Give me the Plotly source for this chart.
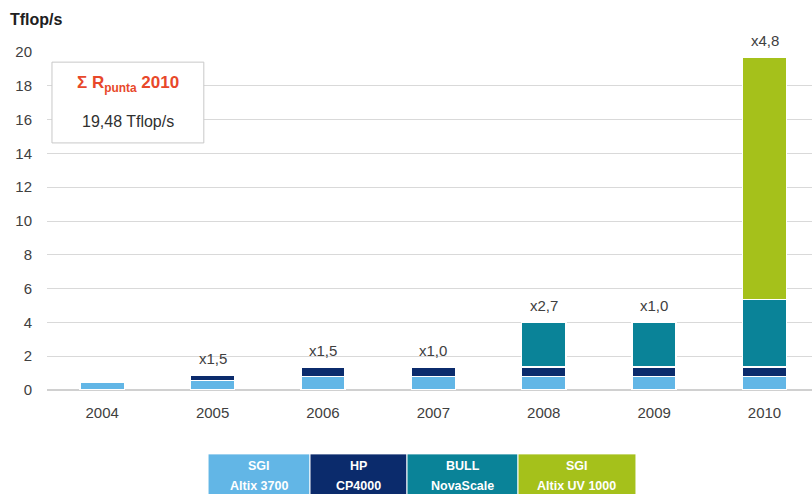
import plotly.graph_objects as go

years = ["2004", "2005", "2006", "2007", "2008", "2009", "2010"]

sgi_altix_3700 = [0.43, 0.55, 0.79, 0.79, 0.79, 0.79, 0.79]
hp_cp4000 = [0, 0.30, 0.57, 0.57, 0.57, 0.57, 0.57]
bull_novascale = [0, 0, 0, 0, 2.65, 2.65, 4.01]
sgi_altix_uv = [0, 0, 0, 0, 0, 0, 14.3]

growth_labels = ["", "x1,5", "x1,5", "x1,0", "x2,7", "x1,0", "x4,8"]

legend_vendor = ["SGI", "HP", "BULL", "SGI"]
legend_model = ["Altix 3700", "CP4000", "NovaScale", "Altix UV 1000"]
colors = ["#62b6e6", "#0b2b6c", "#0a8398", "#a5c11b"]

FONT = "Liberation Sans, Arial, sans-serif"

fig = go.Figure()
for vals, vendor, model, color in zip(
    [sgi_altix_3700, hp_cp4000, bull_novascale, sgi_altix_uv],
    legend_vendor, legend_model, colors,
):
    fig.add_trace(
        go.Bar(
            x=years,
            y=vals,
            name=f"{vendor} {model}",
            marker=dict(color=color, line=dict(color="white", width=1.5)),
            width=0.40,
            showlegend=False,
        )
    )

# growth factor labels above each stack
totals = [sum(v) for v in zip(sgi_altix_3700, hp_cp4000, bull_novascale, sgi_altix_uv)]
for i, (tot, lab) in enumerate(zip(totals, growth_labels)):
    if lab:
        fig.add_annotation(
            x=i, y=tot, text=lab, showarrow=False, yanchor="middle", yshift=17,
            font=dict(size=15, color="#404040", family=FONT),
        )

# legend drawn as a strip of coloured cells under the chart
cell_edges = [0.2105, 0.3438, 0.4706, 0.6157, 0.7699]
for i, color in enumerate(colors):
    x0, x1 = cell_edges[i], cell_edges[i + 1]
    fig.add_shape(
        type="rect", xref="paper", yref="paper", x0=x0, x1=x1, y0=-0.31, y1=-0.189,
        fillcolor=color, line=dict(color="white", width=1), layer="above",
    )
    fig.add_annotation(
        xref="paper", yref="paper", x=(x0 + x1) / 2, y=-0.226, xanchor="center",
        yanchor="middle", text="<b>" + legend_vendor[i] + "</b>",
        showarrow=False, font=dict(size=12.5, color="white", family=FONT),
    )
    fig.add_annotation(
        xref="paper", yref="paper", x=(x0 + x1) / 2, y=-0.285, xanchor="center",
        yanchor="middle", text="<b>" + legend_model[i] + "</b>",
        showarrow=False, font=dict(size=12.5, color="white", family=FONT),
    )

# summary box
fig.add_shape(
    type="rect", xref="paper", yref="paper", x0=0.0065, x1=0.205, y0=0.731, y1=0.970,
    fillcolor="white", line=dict(color="#c8c8c8", width=1), layer="above",
)
fig.add_annotation(
    xref="paper", yref="paper", x=0.106, y=0.905, xanchor="center", yanchor="middle",
    text="<b>Σ R<sub>punta</sub> 2010</b>",
    showarrow=False, font=dict(size=17, color="#e8482a", family=FONT),
)
fig.add_annotation(
    xref="paper", yref="paper", x=0.106, y=0.793, xanchor="center", yanchor="middle",
    text="19,48 Tflop/s",
    showarrow=False, font=dict(size=16, color="#303030", family=FONT),
)

fig.add_annotation(
    xref="paper", yref="paper", x=-0.051, y=1.095, xanchor="left", yanchor="middle",
    text="<b>Tflop/s</b>", showarrow=False, font=dict(size=16, color="#202020", family=FONT),
)

fig.update_layout(
    barmode="stack",
    width=812,
    height=494,
    margin=dict(l=47, r=0, t=52, b=104),
    plot_bgcolor="white",
    paper_bgcolor="white",
    font=dict(family=FONT, size=15, color="#404040"),
)
fig.update_xaxes(
    type="category", range=[-0.5, 6.43], showgrid=False, ticks="",
    ticklabelstandoff=12, tickfont=dict(size=15, color="#404040"),
)
fig.update_yaxes(
    range=[0, 20], dtick=2, showgrid=True, gridcolor="#d9d9d9", gridwidth=1,
    zeroline=True, zerolinecolor="#d0d0d0", ticks="", ticklabelstandoff=14,
    tickfont=dict(size=15, color="#404040"),
)

fig.write_html(
    "out.html",
    config={"displayModeBar": False},
    post_script="document.body.style.margin='0';",
)
